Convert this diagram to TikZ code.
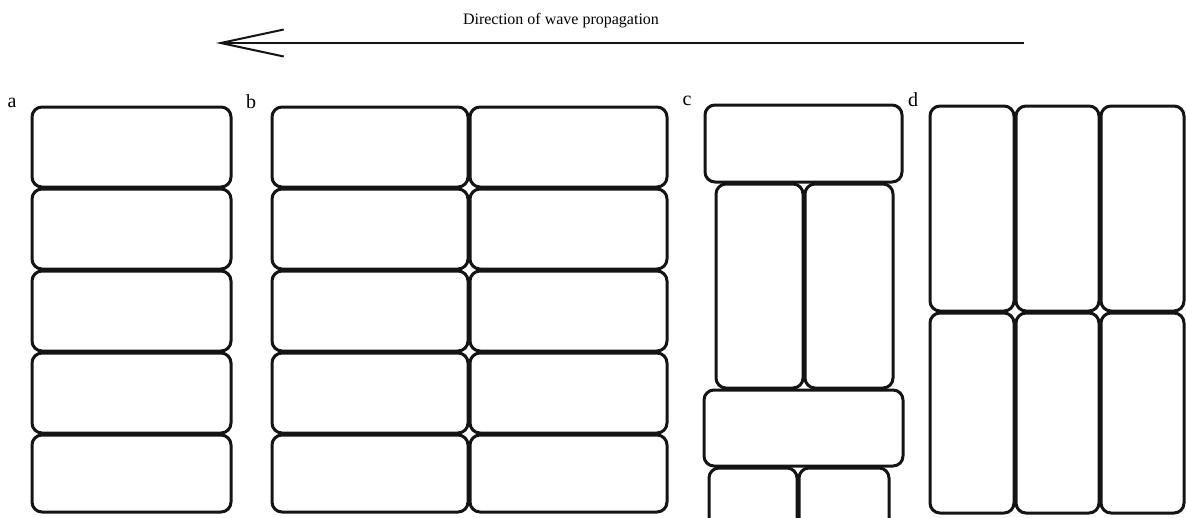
\documentclass[tikz,border=0pt]{standalone}
\usepackage{fontspec}
\setmainfont{Liberation Serif}
\definecolor{brickline}{RGB}{20,20,20}
\usetikzlibrary{arrows.meta}

\tikzset{
  brick/.style={draw=brickline, line width=3pt, rounded corners=10pt},
  panellabel/.style={font=\fontsize{20}{22}\selectfont, inner sep=0pt}
}

\begin{document}
\begin{tikzpicture}[x=1pt, y=-1pt]
  \clip (0,0) rectangle (1186,517);
  \fill[white] (0,0) rectangle (1186,517);

  % wave direction
  \coordinate (tail) at (1024,43);
  \coordinate (head) at (216,43);
  \draw[-{Straight Barb[length=63pt, width=27pt, line width=2pt]},
        line width=2.6pt, brickline] (tail) -- (head);
  \node[font=\fontsize{16}{18}\selectfont, inner sep=0pt] (title) at (561,21)
    {Direction of wave propagation};

  % panel labels
  \node[panellabel] (la) at (12,103) {a};
  \node[panellabel] (lb) at (251,102) {b};
  \node[panellabel] (lc) at (687,101) {c};
  \node[panellabel] (ld) at (913,100) {d};

  % a: single column
  \draw[brick] (32,107) rectangle (231,187);
  \draw[brick] (32,189) rectangle (231,269);
  \draw[brick] (32,271) rectangle (231,351);
  \draw[brick] (32,353) rectangle (231,433);
  \draw[brick] (32,435) rectangle (231,512);

  % b: two columns
  \draw[brick] (272,107) rectangle (468,187);
  \draw[brick] (272,189) rectangle (468,269);
  \draw[brick] (272,271) rectangle (468,351);
  \draw[brick] (272,353) rectangle (468,433);
  \draw[brick] (272,435) rectangle (468,512);
  \draw[brick] (470,107) rectangle (667,187);
  \draw[brick] (470,189) rectangle (667,269);
  \draw[brick] (470,271) rectangle (667,351);
  \draw[brick] (470,353) rectangle (667,433);
  \draw[brick] (470,435) rectangle (667,512);

  % c: mixed bond
  \draw[brick] (705,105) rectangle (902,182);
  \draw[brick] (716,184) rectangle (803,388);
  \draw[brick] (805,184) rectangle (893,388);
  \draw[brick] (704,390) rectangle (903,466);
  \draw[brick] (709,468) rectangle (797,600);
  \draw[brick] (799,468) rectangle (889,600);

  % d: upright bricks
  \draw[brick] (930,106) rectangle (1014,311);
  \draw[brick] (1016,106) rectangle (1099,311);
  \draw[brick] (1101,106) rectangle (1184,311);
  \draw[brick] (930,313) rectangle (1014,513);
  \draw[brick] (1016,313) rectangle (1099,513);
  \draw[brick] (1101,313) rectangle (1184,513);
\end{tikzpicture}
\end{document}
